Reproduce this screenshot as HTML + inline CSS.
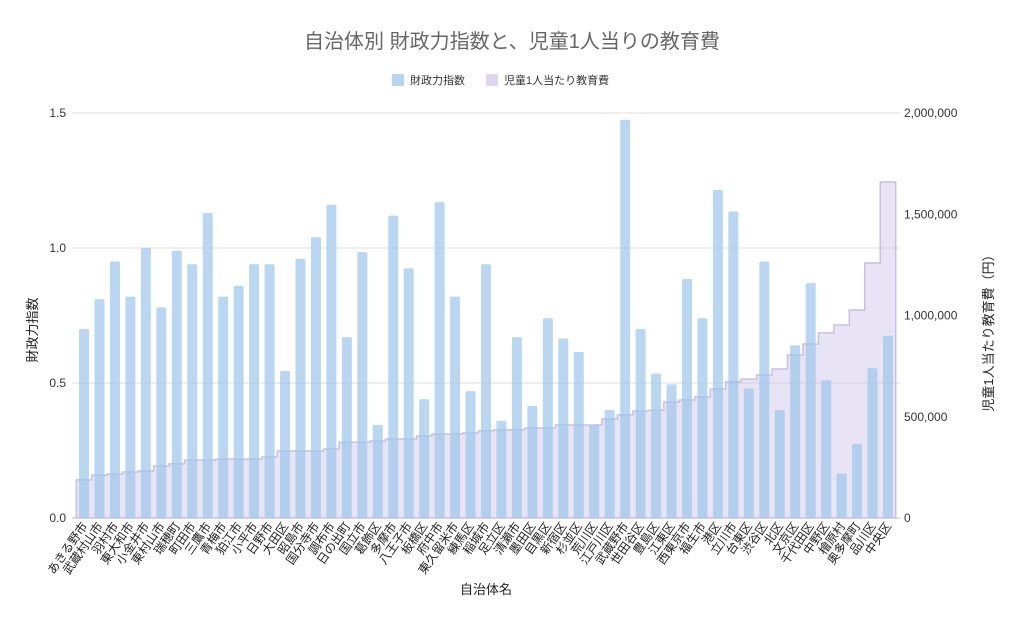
<!DOCTYPE html>
<html><head><meta charset="utf-8"><style>
body{margin:0;background:#fff;font-family:"Liberation Sans","Noto Sans CJK JP",sans-serif;}
svg text{font-family:"Liberation Sans","Noto Sans CJK JP",sans-serif;}
</style></head><body>
<svg id="chart" width="1024" height="626" xmlns="http://www.w3.org/2000/svg">
<rect width="1024" height="626" fill="#fff"/>
<text x="512" y="48" text-anchor="middle" font-size="20" fill="#666">自治体別 財政力指数と、児童1人当りの教育費</text>
<g>
<rect x="392" y="74" width="12" height="12" fill="#b8d4ee"/>
<text x="410" y="84" font-size="11" fill="#333">財政力指数</text>
<rect x="486" y="74" width="12" height="12" fill="#ddd6ee"/>
<text x="504" y="84" font-size="11" fill="#333">児童1人当たり教育費</text>
</g>
<g id="grid"></g><g id="area"></g><g id="bars"></g><g id="axes"></g>
<text x="486" y="594" text-anchor="middle" font-size="13" fill="#222">自治体名</text>
<text transform="translate(37,330) rotate(-90)" text-anchor="middle" font-size="13" fill="#222">財政力指数</text>
<text transform="translate(993,330) rotate(-90)" text-anchor="middle" font-size="13" fill="#222">児童1人当たり教育費（円）</text>
</svg>
<script>
const categories=["あきる野市","武蔵村山市","羽村市","東大和市","小金井市","東村山市","瑞穂町","町田市","三鷹市","青梅市","狛江市","小平市","日野市","大田区","昭島市","国分寺市","調布市","日の出町","国立市","葛飾区","多摩市","八王子市","板橋区","府中市","東久留米市","練馬区","稲城市","足立区","清瀬市","墨田区","目黒区","新宿区","杉並区","荒川区","江戸川区","武蔵野市","世田谷区","豊島区","江東区","西東京市","福生市","港区","立川市","台東区","渋谷区","北区","文京区","千代田区","中野区","檜原村","奥多摩町","品川区","中央区"];
const fiscalIndex=[0.70,0.81,0.95,0.82,1.00,0.78,0.99,0.94,1.13,0.82,0.86,0.94,0.94,0.545,0.96,1.04,1.16,0.67,0.985,0.345,1.12,0.925,0.44,1.17,0.82,0.47,0.94,0.36,0.67,0.415,0.74,0.665,0.615,0.345,0.40,1.475,0.70,0.535,0.495,0.885,0.74,1.215,1.135,0.48,0.95,0.40,0.64,0.87,0.51,0.165,0.275,0.555,0.675];
const eduCost=[188000,212000,217000,227000,232000,257000,267000,286000,286000,291000,291000,291000,301000,331000,331000,331000,341000,375000,375000,380000,390000,390000,405000,415000,415000,420000,430000,435000,435000,444000,444000,459000,459000,459000,489000,509000,528000,533000,573000,583000,598000,637000,672000,686000,706000,736000,805000,859000,914000,953000,1027000,1259000,1659000];
const leftTicks=["0.0","0.5","1.0","1.5"];
const leftTickVals=[0,0.5,1.0,1.5];
const rightTickVals=[0,500000,1000000,1500000,2000000];
const rightTicks=["0","500,000","1,000,000","1,500,000","2,000,000"];
const X0=76.3,X1=895.7,Y0=518,Y1=113;
const band=(X1-X0)/categories.length;
const yL=v=>Y0-(v/1.5)*(Y0-Y1);
const yR=v=>Y0-(v/2000000)*(Y0-Y1);
const xB=i=>X0+i*band;
const NS="http://www.w3.org/2000/svg";
function mk(tag,parent){const e=document.createElementNS(NS,tag);document.getElementById(parent).appendChild(e);return e;}
leftTickVals.forEach((v,i)=>{
 const l=mk('line','grid');
 
 
 l.setAttribute('x1',72);l.setAttribute('x2',900);l.setAttribute('y1',yL(v));l.setAttribute('y2',yL(v));
 l.setAttribute('stroke',v===0?'#bbb':'#ddd');l.setAttribute('stroke-width',1);
 const t=mk('text','axes');
 
 
 t.setAttribute('x',66);t.setAttribute('y',yL(v)+4);t.setAttribute('text-anchor','end');t.setAttribute('font-size',12);t.setAttribute('fill','#333');
 t.textContent=leftTicks[i];
});
rightTickVals.forEach((v,i)=>{
 const t=mk('text','axes');
 
 
 t.setAttribute('x',904);t.setAttribute('y',yR(v)+4);t.setAttribute('font-size',12);t.setAttribute('fill','#333');
 t.textContent=rightTicks[i];
});
let d='M'+X0+','+Y0;
eduCost.forEach((v,i)=>{d+=' L'+xB(i)+','+yR(v)+' L'+xB(i+1)+','+yR(v);});
d+=' L'+X1+','+Y0+' Z';
const a=mk('path','area');


a.setAttribute('d',d);a.setAttribute('fill','rgba(205,195,232,0.45)');a.setAttribute('stroke','#c9bfe2');a.setAttribute('stroke-width',1.5);
fiscalIndex.forEach((v,i)=>{
 const r=mk('rect','bars');
 
 
 const w=10;
 r.setAttribute('x',xB(i)+band/2-w/2);r.setAttribute('y',yL(v));r.setAttribute('width',w);r.setAttribute('height',Y0-yL(v));
 r.setAttribute('rx',1.5);r.setAttribute('fill','rgba(160,198,234,0.72)');
});
categories.forEach((c,i)=>{
 const t=mk('text','axes');
 
 
 const x=xB(i)+band/2+4,y=526;
 t.setAttribute('x',x);t.setAttribute('y',y);t.setAttribute('text-anchor','end');t.setAttribute('font-size',12);t.setAttribute('fill','#222');
 t.setAttribute('transform','rotate(-55 '+x+' '+y+')');
 t.textContent=c;
});
</script>
</body></html>
